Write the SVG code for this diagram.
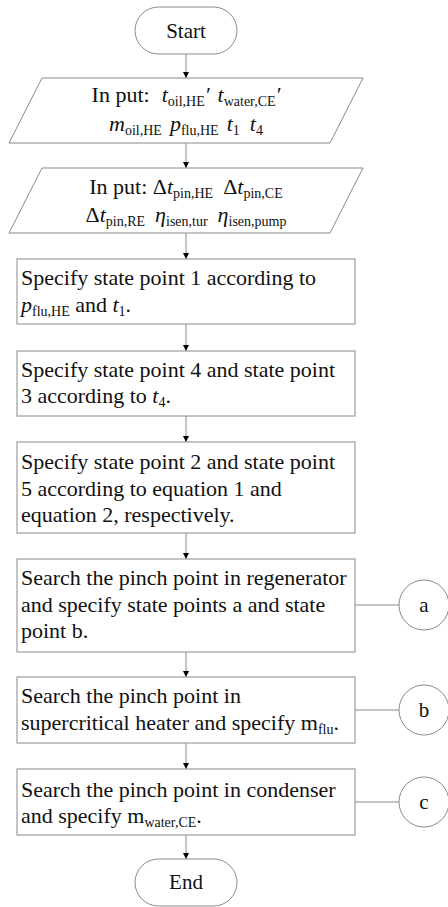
<svg xmlns="http://www.w3.org/2000/svg" width="448" height="907" viewBox="0 0 448 907" font-family="'Liberation Serif', 'Times New Roman', serif">
  <defs>
    <marker id="arr" viewBox="0 0 10 10" refX="10" refY="5" markerWidth="6" markerHeight="7" markerUnits="userSpaceOnUse" orient="auto">
      <path d="M0,0 L10,5 L0,10 Z" fill="#000"/>
    </marker>
    <style>
      .shape { fill: #fff; stroke: #8a8a8a; stroke-width: 1; }
      .link { stroke: #8a8a8a; stroke-width: 1; fill: none; }
      .t { font-size: 22px; fill: #111; }
      .lbl { font-size: 21px; fill: #111; }
      .it { font-style: italic; }
      .sb { font-size: 14px; }
    </style>
  </defs>
  <rect width="448" height="907" fill="#fff"/>

  <g id="connectors">
    <line class="link" x1="186" y1="54" x2="186" y2="78" marker-end="url(#arr)"/>
    <line class="link" x1="186" y1="143" x2="186" y2="168" marker-end="url(#arr)"/>
    <line class="link" x1="186" y1="233" x2="186" y2="259" marker-end="url(#arr)"/>
    <line class="link" x1="186" y1="324" x2="186" y2="351" marker-end="url(#arr)"/>
    <line class="link" x1="186" y1="416" x2="186" y2="442" marker-end="url(#arr)"/>
    <line class="link" x1="186" y1="533" x2="186" y2="559" marker-end="url(#arr)"/>
    <line class="link" x1="186" y1="652" x2="186" y2="677" marker-end="url(#arr)"/>
    <line class="link" x1="186" y1="743" x2="186" y2="769" marker-end="url(#arr)"/>
    <line class="link" x1="186" y1="835" x2="186" y2="859" marker-end="url(#arr)"/>
    <line class="link" x1="355" y1="605" x2="400" y2="605"/>
    <line class="link" x1="355" y1="710" x2="400" y2="710"/>
    <line class="link" x1="355" y1="802" x2="400" y2="802"/>
  </g>

  <g id="start">
    <rect class="shape" x="135" y="7" width="102" height="47" rx="23.5"/>
    <text class="lbl" x="186" y="38" text-anchor="middle">Start</text>
  </g>

  <g id="input1">
    <polygon class="shape" points="42,78 363,78 330,143 9,143"/>
    <text class="t" x="186" y="102" text-anchor="middle">In put:<tspan class="it" dx="12">t</tspan><tspan class="sb" dy="4">oil,HE</tspan><tspan class="it" dy="-4">′</tspan><tspan class="it" dx="8">t</tspan><tspan class="sb" dy="4">water,CE</tspan><tspan class="it" dy="-4">′</tspan></text>
    <text class="t" x="186" y="131" text-anchor="middle"><tspan class="it">m</tspan><tspan class="sb" dy="4">oil,HE</tspan><tspan class="it" dx="8" dy="-4">p</tspan><tspan class="sb" dy="4">flu,HE</tspan><tspan class="it" dx="8" dy="-4">t</tspan><tspan class="sb" dy="4">1</tspan><tspan class="it" dx="10" dy="-4">t</tspan><tspan class="sb" dy="4">4</tspan></text>
  </g>

  <g id="input2">
    <polygon class="shape" points="42,168 363,168 330,233 9,233"/>
    <text class="t" x="186" y="194" text-anchor="middle">In put: Δ<tspan class="it">t</tspan><tspan class="sb" dy="4">pin,HE</tspan><tspan dx="10" dy="-4">Δ</tspan><tspan class="it">t</tspan><tspan class="sb" dy="4">pin,CE</tspan></text>
    <text class="t" x="186" y="222" text-anchor="middle">Δ<tspan class="it">t</tspan><tspan class="sb" dy="4">pin,RE</tspan><tspan class="it" dx="10" dy="-4">η</tspan><tspan class="sb" dy="4">isen,tur</tspan><tspan class="it" dx="10" dy="-4">η</tspan><tspan class="sb" dy="4">isen,pump</tspan></text>
  </g>

  <g id="step1">
    <rect class="shape" x="17" y="259" width="338" height="65"/>
    <text class="t" x="21" y="285">Specify state point 1 according to</text>
    <text class="t" x="21" y="312"><tspan class="it">p</tspan><tspan class="sb" dy="4">flu,HE</tspan><tspan dy="-4"> and </tspan><tspan class="it">t</tspan><tspan class="sb" dy="4">1</tspan><tspan dy="-4">.</tspan></text>
  </g>

  <g id="step2">
    <rect class="shape" x="17" y="351" width="338" height="65"/>
    <text class="t" x="21" y="377">Specify state point 4 and state point</text>
    <text class="t" x="21" y="403">3 according to <tspan class="it">t</tspan><tspan class="sb" dy="4">4</tspan><tspan dy="-4">.</tspan></text>
  </g>

  <g id="step3">
    <rect class="shape" x="17" y="442" width="338" height="91"/>
    <text class="t" x="21" y="469">Specify state point 2 and state point</text>
    <text class="t" x="21" y="496">5 according to equation 1 and</text>
    <text class="t" x="21" y="522">equation 2, respectively.</text>
  </g>

  <g id="step4">
    <rect class="shape" x="17" y="559" width="338" height="93"/>
    <text class="t" x="21" y="585">Search the pinch point in regenerator</text>
    <text class="t" x="21" y="612">and specify state points a and state</text>
    <text class="t" x="21" y="638">point b.</text>
  </g>

  <g id="step5">
    <rect class="shape" x="17" y="677" width="338" height="66"/>
    <text class="t" x="21" y="703">Search the pinch point in</text>
    <text class="t" x="21" y="730">supercritical heater and specify m<tspan class="sb" dy="4">flu</tspan><tspan dy="-4">.</tspan></text>
  </g>

  <g id="step6">
    <rect class="shape" x="17" y="769" width="338" height="66"/>
    <text class="t" x="21" y="797">Search the pinch point in condenser</text>
    <text class="t" x="21" y="823">and specify m<tspan class="sb" dy="4">water,CE</tspan><tspan dy="-4">.</tspan></text>
  </g>

  <g id="end">
    <rect class="shape" x="135" y="859" width="102" height="47" rx="23.5"/>
    <text class="lbl" x="186" y="889" text-anchor="middle">End</text>
  </g>

  <g id="conn-a">
    <circle class="shape" cx="424" cy="605" r="25"/>
    <text class="lbl" x="424" y="612" text-anchor="middle">a</text>
  </g>
  <g id="conn-b">
    <circle class="shape" cx="424" cy="710" r="25"/>
    <text class="lbl" x="424" y="717" text-anchor="middle">b</text>
  </g>
  <g id="conn-c">
    <circle class="shape" cx="424" cy="802" r="25"/>
    <text class="lbl" x="424" y="809" text-anchor="middle">c</text>
  </g>
</svg>
